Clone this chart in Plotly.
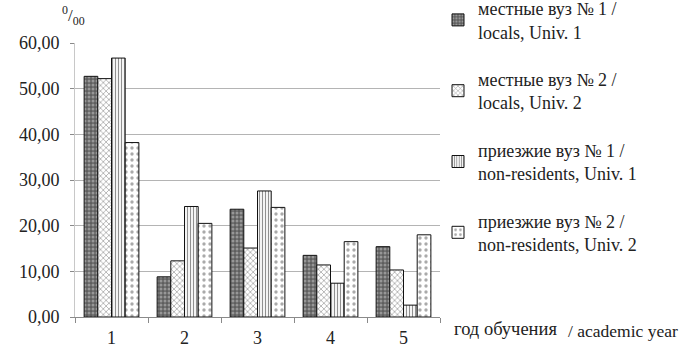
import plotly.graph_objects as go

# Academic year (category axis)
years = ["1", "2", "3", "4", "5"]

# Rates per mille by group
locals_univ1 = [52.7, 8.8, 23.6, 13.5, 15.4]
locals_univ2 = [52.2, 12.3, 15.1, 11.4, 10.3]
nonres_univ1 = [56.7, 24.2, 27.6, 7.4, 2.6]
nonres_univ2 = [38.2, 20.5, 24.0, 16.5, 18.0]

series_names = [
    "местные вуз № 1 /<br>locals, Univ. 1",
    "местные вуз № 2 /<br>locals, Univ. 2",
    "приезжие вуз № 1 /<br>non-residents, Univ. 1",
    "приезжие вуз № 2 /<br>non-residents, Univ. 2",
]
series_values = [locals_univ1, locals_univ2, nonres_univ1, nonres_univ2]

# Monochrome hatch fills for each series
patterns = [
    dict(shape=".", bgcolor="#5e5e5e", fgcolor="#cfcfcf", size=4, solidity=0.45),
    dict(shape="x", bgcolor="#ffffff", fgcolor="#4a4a4a", size=4, solidity=0.35),
    dict(shape="|", bgcolor="#ffffff", fgcolor="#222222", size=3, solidity=0.4),
    dict(shape=".", bgcolor="#ffffff", fgcolor="#555555", size=6, solidity=0.25),
]

SERIF = "Liberation Serif, Times New Roman, serif"

W, H = 679, 349
L, R, T, B = 75, 239, 43, 32
PW, PH = W - L - R, H - T - B


def px_x(px):
    return (px - L) / PW


def px_y(py):
    return (H - B - py) / PH


fig = go.Figure()
for i, (name, vals, pat) in enumerate(zip(series_names, series_values, patterns)):
    fig.add_trace(go.Bar(
        x=years, y=vals, name=name, legendgroup=f"g{i}",
        marker=dict(color=pat["bgcolor"], pattern=pat,
                    line=dict(color="#111111", width=1)),
    ))

fig.update_layout(
    width=W, height=H,
    margin=dict(l=L, r=R, t=T, b=B, autoexpand=False),
    paper_bgcolor="white", plot_bgcolor="white",
    barmode="group", bargap=0.25, bargroupgap=0,
    separators=", ",
    font=dict(family=SERIF, color="#222222", size=18),
    showlegend=True,
    legend=dict(
        x=px_x(438), xanchor="left",
        y=px_y(-10), yanchor="top",
        font=dict(family=SERIF, size=18, color="#222222"),
        traceorder="grouped", tracegroupgap=21,
        itemwidth=30, bgcolor="rgba(0,0,0,0)",
        maxheight=1,
    ),
    xaxis=dict(
        type="category", showgrid=False,
        showline=True, linecolor="#8a8a8a", linewidth=1,
        ticks="outside", tickson="boundaries", ticklen=5, tickcolor="#8a8a8a",
        ticklabelstandoff=4,
        tickfont=dict(family=SERIF, size=18, color="#222222"),
    ),
    yaxis=dict(
        range=[0, 60], dtick=10, tickformat=".2f",
        showgrid=True, gridcolor="#b4b4b4", gridwidth=1,
        showline=True, linecolor="#c8c8c8", linewidth=1,
        ticks="outside", ticklen=4, tickcolor="#8a8a8a",
        ticklabelstandoff=7,
        tickfont=dict(family=SERIF, size=18, color="#222222"),
        zeroline=False,
    ),
)

# Per-mille unit label above the y axis
fig.add_annotation(
    text="<sup>0</sup>/<sub>00</sub>", xref="paper", yref="paper",
    x=px_x(60), y=px_y(30), showarrow=False,
    xanchor="left", yanchor="bottom",
    font=dict(family=SERIF, size=17, color="#222222"),
)

# Axis title at bottom right, in two languages
fig.add_annotation(
    text="год обучения",
    xref="paper", yref="paper", x=px_x(452), y=px_y(317),
    showarrow=False, xanchor="left", yanchor="top",
    font=dict(family=SERIF, size=18.5, color="#222222"),
)
fig.add_annotation(
    text="/ academic year",
    xref="paper", yref="paper", x=px_x(566), y=px_y(319),
    showarrow=False, xanchor="left", yanchor="top",
    font=dict(family=SERIF, size=17.5, color="#222222"),
)

fig.write_html("out.html")
